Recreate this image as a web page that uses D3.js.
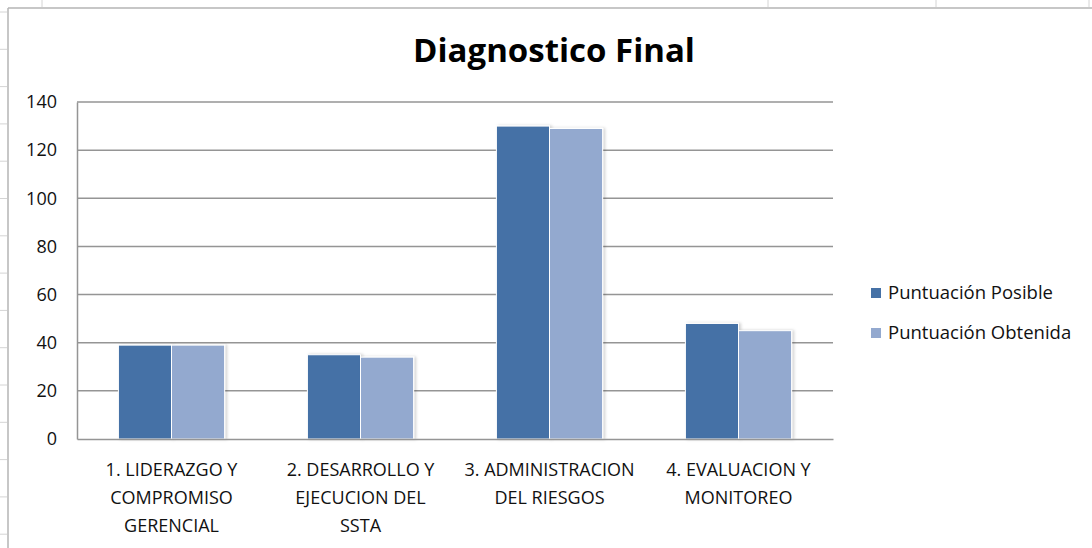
<!DOCTYPE html>
<html>
<head>
<meta charset="utf-8">
<script src="https://cdn.jsdelivr.net/npm/d3@7"></script>
<style>
  html, body { margin: 0; padding: 0; background: #fff; }
  svg { display: block; font-family: "Open Sans", sans-serif; }
</style>
</head>
<body>
<div id="chart"></div>
<script>
// data
const categories = [
    "1. LIDERAZGO Y COMPROMISO GERENCIAL",
    "2. DESARROLLO Y EJECUCION DEL SSTA",
    "3. ADMINISTRACION DEL RIESGOS",
    "4. EVALUACION Y MONITOREO"
];
const categoryLines = [
    ["1. LIDERAZGO Y", "COMPROMISO", "GERENCIAL"],
    ["2. DESARROLLO Y", "EJECUCION DEL", "SSTA"],
    ["3. ADMINISTRACION", "DEL RIESGOS"],
    ["4. EVALUACION Y", "MONITOREO"]
];
const seriesNames = ["Puntuación Posible", "Puntuación Obtenida"];
const puntuacionPosible = [39, 35, 130, 48];
const puntuacionObtenida = [39, 34, 129, 45];
const yTicks = [0, 20, 40, 60, 80, 100, 120, 140];
const seriesColors = ["#4571a6", "#93a9cf"];

const W = 1092, H = 548;
const margin = { top: 102, right: 259, bottom: 109, left: 77 };
const width = W - margin.left - margin.right;
const height = H - margin.top - margin.bottom;

const rows = categories.map((c, i) => ({
    cat: c, lines: categoryLines[i],
    values: [puntuacionPosible[i], puntuacionObtenida[i]]
}));

const svg = d3.select("#chart").append("svg")
    .attr("width", W).attr("height", H);

// shadow for bars
const defs = svg.append("defs");
defs.append("filter").attr("id", "shadow")
    .attr("x", "-20%").attr("y", "-10%").attr("width", "140%").attr("height", "120%")
    .append("feDropShadow")
    .attr("dx", 2).attr("dy", 0).attr("stdDeviation", 1.5)
    .attr("flood-color", "#000").attr("flood-opacity", 0.18);

// spreadsheet frame behind the chart
const frame = svg.append("g").attr("class", "frame");
[42, 768, 936, 1089].forEach(x => {
    frame.append("line").attr("x1", x).attr("x2", x).attr("y1", 0).attr("y2", 7)
        .attr("stroke", "#d4d4d4").attr("stroke-width", 1);
});
for (let y = 12; y < H; y += 37.3) {
    frame.append("line").attr("x1", 0).attr("x2", 7).attr("y1", y).attr("y2", y)
        .attr("stroke", "#d4d4d4").attr("stroke-width", 1);
}
frame.append("line").attr("x1", 8).attr("x2", W).attr("y1", 8).attr("y2", 8)
    .attr("stroke", "#b4b4b4").attr("stroke-width", 1.5);
frame.append("line").attr("x1", 8).attr("x2", 8).attr("y1", 8).attr("y2", H)
    .attr("stroke", "#b4b4b4").attr("stroke-width", 1.5);

svg.append("text")
    .attr("x", 554).attr("y", 62)
    .attr("text-anchor", "middle")
    .style("font-size", "33px").style("font-weight", "bold").style("fill", "#000")
    .text("Diagnostico Final");

const g = svg.append("g").attr("transform", `translate(${margin.left},${margin.top})`);

const x0 = d3.scaleBand().domain(categories).range([0, width]).padding(0);
const x1 = d3.scaleBand().domain(seriesNames).range([0, x0.bandwidth()])
    .paddingInner(0).paddingOuter(0.78);
const y = d3.scaleLinear().domain([0, 140]).range([height, 0]);

// gridlines
g.append("g").attr("class", "grid")
    .selectAll("line").data(yTicks.filter(t => t > 0)).join("line")
    .attr("x1", 0).attr("x2", width)
    .attr("y1", d => y(d)).attr("y2", d => y(d))
    .attr("stroke", "#959595").attr("stroke-width", 1.5);

// y axis
const yAxis = g.append("g").call(d3.axisLeft(y).tickValues(yTicks).tickSize(0).tickPadding(20));
yAxis.select(".domain").attr("stroke", "#959595").attr("stroke-width", 1.5);
yAxis.selectAll("text").style("font-size", "18px").style("fill", "#111").style("font-family", "Open Sans");

// bars
const groups = g.append("g").selectAll("g").data(rows).join("g")
    .attr("transform", d => `translate(${x0(d.cat)},0)`);
groups.selectAll("rect")
    .data(d => d.values.map((v, i) => ({ key: seriesNames[i], value: v, i })))
    .join("rect")
    .attr("x", d => x1(d.key))
    .attr("y", d => y(d.value))
    .attr("width", x1.bandwidth())
    .attr("height", d => height - y(d.value))
    .attr("fill", d => seriesColors[d.i])
    .attr("stroke", "#fff").attr("stroke-width", 1)
    .attr("filter", "url(#shadow)");

// x axis
const xAxis = g.append("g").attr("transform", `translate(0,${height})`)
    .call(d3.axisBottom(x0).tickSize(0).tickFormat(""));
xAxis.select(".domain").attr("stroke", "#959595").attr("stroke-width", 1.5);
xAxis.selectAll(".tick").each(function(cat) {
    const row = rows.find(r => r.cat === cat);
    const t = d3.select(this).append("text")
        .attr("fill", "#111").attr("text-anchor", "middle")
        .style("font-size", "18px").style("font-family", "Open Sans");
    row.lines.forEach((ln, k) => {
        t.append("tspan").attr("x", 0).attr("y", 37 + k * 28).text(ln);
    });
});

// legend
const legend = svg.append("g").attr("transform", "translate(871,288)");
seriesNames.forEach((name, i) => {
    const lg = legend.append("g").attr("transform", `translate(0,${i * 40})`);
    lg.append("rect").attr("width", 10).attr("height", 10).attr("fill", seriesColors[i]);
    lg.append("text").attr("x", 17).attr("y", 5).attr("dy", "0.35em")
        .style("font-size", "18.5px").style("fill", "#111").text(name);
});
</script>
</body>
</html>
